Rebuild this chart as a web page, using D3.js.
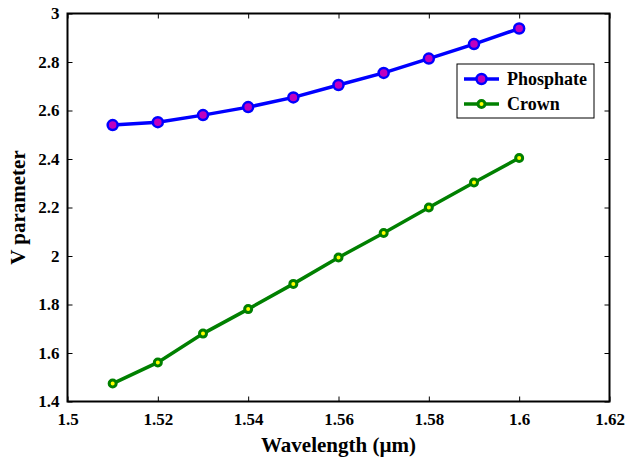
<html>
<head>
<style>
  body { margin: 0; background: #fff; }
</style>
</head>
<body>
<svg id="chart" width="627" height="461"></svg>
<script src="https://d3js.org/d3.v7.min.js"></script>
<script>
var wavelength = [1.51, 1.52, 1.53, 1.54, 1.55, 1.56, 1.57, 1.58, 1.59, 1.60];
var phosphate = [2.54, 2.552, 2.581, 2.614, 2.654, 2.705, 2.755, 2.814, 2.874, 2.938];
var crown = [1.474, 1.561, 1.68, 1.781, 1.885, 1.994, 2.095, 2.2, 2.303, 2.404];
var xTicks = [1.5, 1.52, 1.54, 1.56, 1.58, 1.6, 1.62];
var yTicks = [1.4, 1.6, 1.8, 2, 2.2, 2.4, 2.6, 2.8, 3];

var FONT = "'Liberation Serif', 'Times New Roman', Times, serif";

var margin = {top: 13.5, right: 17.5, bottom: 59.5, left: 67.5},
    width = 627 - margin.left - margin.right,
    height = 461 - margin.top - margin.bottom;

var svg = d3.select("#chart");
var g = svg.append("g")
  .attr("transform", "translate(" + margin.left + "," + margin.top + ")");

var x = d3.scaleLinear().domain([1.5, 1.62]).range([0, width]);
var y = d3.scaleLinear().domain([1.4, 3]).range([height, 0]);

var fmt = function(d) { return String(+d.toFixed(2)); };

function styleAxis(sel, showLabels) {
  sel.attr("font-family", null).attr("font-size", null);
  sel.select(".domain").remove();
  sel.selectAll("line").attr("stroke", "#000").attr("stroke-width", 1);
  sel.selectAll("text")
    .style("font-family", FONT).style("font-weight", "bold")
    .style("font-size", "17px").attr("fill", "#000");
  if (!showLabels) sel.selectAll("text").remove();
}

g.append("g").attr("transform", "translate(0," + height + ")")
  .call(d3.axisBottom(x).tickValues(xTicks).tickFormat(fmt).tickSizeInner(-5).tickPadding(11))
  .call(styleAxis, true);
g.append("g")
  .call(d3.axisTop(x).tickValues(xTicks).tickSizeInner(-5))
  .call(styleAxis, false);
g.append("g")
  .call(d3.axisLeft(y).tickValues(yTicks).tickFormat(fmt).tickSizeInner(-5).tickPadding(8))
  .call(styleAxis, true);
g.append("g").attr("transform", "translate(" + width + ",0)")
  .call(d3.axisRight(y).tickValues(yTicks).tickSizeInner(-5))
  .call(styleAxis, false);

g.append("rect")
  .attr("width", width).attr("height", height)
  .attr("fill", "none").attr("stroke", "#000").attr("stroke-width", 2);

var series = [
  {name: "Phosphate", values: phosphate, color: "#0000ff", fill: "#bf00bf", r: 5, sw: 2.5},
  {name: "Crown", values: crown, color: "#008000", fill: "#ffff00", r: 3.5, sw: 3}
];

var line = d3.line()
  .x(function(d, i) { return x(wavelength[i]); })
  .y(function(d) { return y(d); });

series.forEach(function(s) {
  g.append("path").datum(s.values)
    .attr("d", line).attr("fill", "none")
    .attr("stroke", s.color).attr("stroke-width", 3.5);
  g.selectAll(null).data(s.values).enter().append("circle")
    .attr("cx", function(d, i) { return x(wavelength[i]); })
    .attr("cy", function(d) { return y(d); })
    .attr("r", s.r)
    .attr("fill", s.fill).attr("stroke", s.color).attr("stroke-width", s.sw);
});

// legend
var legend = svg.append("g").attr("transform", "translate(457,64)");
legend.append("rect").attr("width", 137).attr("height", 54)
  .attr("fill", "#fff").attr("stroke", "#000").attr("stroke-width", 1);
series.forEach(function(s, i) {
  var ly = 15 + i * 25;
  legend.append("line").attr("x1", 7).attr("x2", 42).attr("y1", ly).attr("y2", ly)
    .attr("stroke", s.color).attr("stroke-width", 3.5);
  legend.append("circle").attr("cx", 24.5).attr("cy", ly).attr("r", s.r)
    .attr("fill", s.fill).attr("stroke", s.color).attr("stroke-width", s.sw);
  legend.append("text").attr("x", 50).attr("y", ly + 6)
    .style("font-family", FONT).style("font-weight", "bold")
    .style("font-size", "18px").text(s.name);
});

// axis labels
svg.append("text")
  .attr("x", margin.left + width / 2).attr("y", 452)
  .attr("text-anchor", "middle")
  .style("font-family", FONT).style("font-weight", "bold").style("font-size", "21px")
  .text("Wavelength (\u00b5m)");
svg.append("text")
  .attr("transform", "translate(25," + (margin.top + height / 2) + ") rotate(-90)")
  .attr("text-anchor", "middle")
  .style("font-family", FONT).style("font-weight", "bold").style("font-size", "21px")
  .text("V parameter");
</script>
</body>
</html>
